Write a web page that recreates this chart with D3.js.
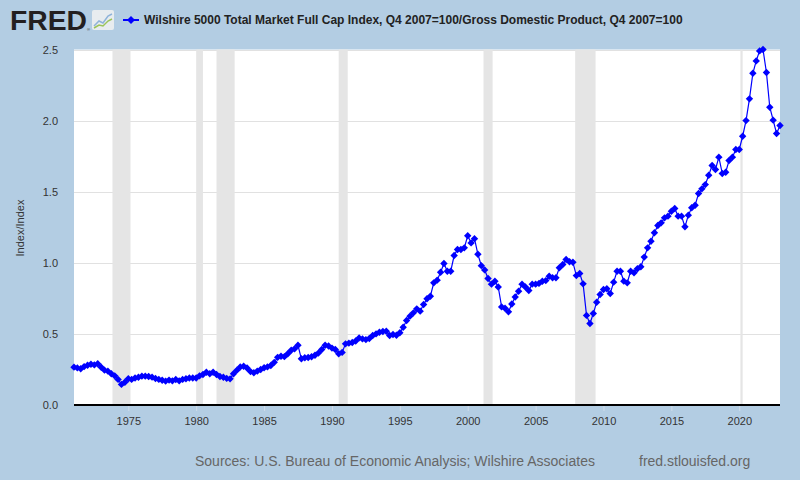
<!DOCTYPE html>
<html><head><meta charset="utf-8">
<script src="https://cdn.jsdelivr.net/npm/d3@7"></script>
<style>
html,body{margin:0;padding:0;background:#b3cde3;}
svg{display:block;font-family:"Liberation Sans",Arial,sans-serif;}
</style></head>
<body><svg id="c" width="800" height="480"></svg>
<script>
// Quarterly series: start 1971 Q1, one value per quarter
const startYear = 1971;
const vals1970s = [0.266,0.261,0.255,0.27, 0.28,0.287,0.282,0.29, 0.265,0.245,0.238,0.22, 0.205,0.18,0.145,0.16,
  0.185,0.18,0.19,0.195, 0.203,0.203,0.2,0.196, 0.186,0.18,0.174,0.168, 0.175,0.17,0.179,0.17, 0.18,0.185,0.19,0.19];
const vals1980s = [0.19,0.205,0.215,0.23, 0.22,0.23,0.214,0.2, 0.195,0.187,0.184,0.22, 0.245,0.268,0.273,0.26,
  0.235,0.227,0.238,0.25, 0.262,0.268,0.278,0.3, 0.335,0.343,0.34,0.36, 0.385,0.395,0.42,0.325,
  0.332,0.334,0.339,0.35, 0.365,0.39,0.42,0.415];
const vals1990s = [0.40,0.39,0.36,0.37, 0.43,0.435,0.44,0.45, 0.472,0.465,0.46,0.468, 0.489,0.50,0.512,0.517,
  0.519,0.489,0.496,0.491, 0.508,0.547,0.594,0.625, 0.648,0.676,0.66,0.707, 0.747,0.765,0.859,0.878,
  0.934,0.995,0.941,0.941, 1.051,1.094,1.094,1.105];
const vals2000s = [1.19,1.14,1.17,1.06, 0.98,0.95,0.89,0.85, 0.87,0.83,0.69,0.68, 0.655,0.71,0.76,0.80,
  0.85,0.83,0.805,0.85, 0.85,0.855,0.87,0.875, 0.905,0.895,0.895,0.965, 0.988,1.023,1.007,1.004,
  0.91,0.925,0.852,0.63, 0.573,0.643,0.723,0.777];
const vals2010s = [0.812,0.817,0.784,0.864, 0.941,0.941,0.871,0.859, 0.941,0.93,0.958,0.972, 1.04,1.105,1.152,1.211,
  1.262,1.281,1.316,1.328, 1.363,1.382,1.328,1.328, 1.253,1.335,1.387,1.405, 1.487,1.52,1.55,1.616,
  1.684,1.656,1.743,1.628, 1.637,1.719,1.743,1.797];
const vals2020s = [1.797,1.89,2.0,2.153, 2.333,2.42,2.49,2.5, 2.338,2.094,2.003,1.909, 1.966];

const recessions = [["1973-11-01","1975-03-01"],["1980-01-01","1980-07-01"],["1981-07-01","1982-11-01"],
  ["1990-07-01","1991-03-01"],["2001-03-01","2001-11-01"],["2007-12-01","2009-06-01"],["2020-02-01","2020-04-01"]];
const yTicks = [0,0.5,1.0,1.5,2.0,2.5];
const xTickYears = [1975,1980,1985,1990,1995,2000,2005,2010,2015,2020];
const domainX = ["1971-01-01","2023-01-01"];
const titleText = "Wilshire 5000 Total Market Full Cap Index, Q4 2007=100/Gross Domestic Product, Q4 2007=100";
const yLabel = "Index/Index";
const sourceText = "Sources: U.S. Bureau of Economic Analysis; Wilshire Associates";
const siteText = "fred.stlouisfed.org";

const values = [].concat(vals1970s, vals1980s, vals1990s, vals2000s, vals2010s, vals2020s);
const data = values.map((v,i)=>({date:new Date(startYear + Math.floor(i/4), (i%4)*3, 1), v}));

const svg = d3.select("#c");
const L=74, R=780, T=49.5, B=405;
const parse = d3.timeParse("%Y-%m-%d");
const x = d3.scaleTime().domain(domainX.map(parse)).range([L,R]);
const y = d3.scaleLinear().domain([0,2.5]).range([B,T]);

svg.append("rect").attr("width",800).attr("height",480).attr("fill","#b3cde3");
svg.append("rect").attr("x",L).attr("y",T).attr("width",R-L).attr("height",B-T).attr("fill","#ffffff");

// grid
svg.append("g").selectAll("line").data(yTicks.filter(d=>d>0)).join("line")
  .attr("x1",L).attr("x2",R).attr("y1",d=>Math.round(y(d))+0.5).attr("y2",d=>Math.round(y(d))+0.5)
  .attr("stroke","#e1e1e1").attr("stroke-width",1);

// recessions
svg.append("g").selectAll("rect").data(recessions).join("rect")
  .attr("x",d=>x(parse(d[0]))).attr("width",d=>x(parse(d[1]))-x(parse(d[0])))
  .attr("y",T).attr("height",B-T).attr("fill","#e5e5e5");

// x axis
const xAxis = d3.axisBottom(x).tickValues(xTickYears.map(yr=>new Date(yr,0,1))).tickFormat(d3.timeFormat("%Y")).tickSize(6).tickPadding(6);
const gx = svg.append("g").attr("transform",`translate(0,${B})`).call(xAxis);
gx.select(".domain").remove();
gx.selectAll(".tick line").attr("stroke","#d0dcea");
gx.selectAll(".tick text").attr("fill","#333").style("font-size","11px").style("font-family","Liberation Sans, Arial, sans-serif");
svg.append("line").attr("x1",L).attr("x2",R).attr("y1",B).attr("y2",B).attr("stroke","#000").attr("stroke-width",2);

// y axis
const yAxis = d3.axisLeft(y).tickValues(yTicks).tickFormat(d3.format(".1f")).tickSize(0).tickPadding(16);
const gy = svg.append("g").attr("transform",`translate(${L},0)`).call(yAxis);
gy.select(".domain").remove();
gy.selectAll(".tick text").attr("fill","#333").style("font-size","11px").style("font-family","Liberation Sans, Arial, sans-serif");

svg.append("text").attr("transform","translate(24,228) rotate(-90)").attr("text-anchor","middle")
  .attr("fill","#333").style("font-size","11px").text(yLabel);

// series
const line = d3.line().x(d=>x(d.date)).y(d=>y(d.v));
svg.append("path").datum(data).attr("d",line).attr("fill","none").attr("stroke","#0000ff").attr("stroke-width",1.2);
const r=3.7;
svg.append("g").selectAll("path").data(data).join("path")
  .attr("d",`M0,${-r}L${r},0L0,${r}L${-r},0Z`)
  .attr("transform",d=>`translate(${x(d.date)},${y(d.v)})`).attr("fill","#0000ff");

// header
svg.append("text").attr("x",10).attr("y",30).attr("fill","#231f20").style("font-size","27px").style("font-weight","bold")
  .attr("textLength",77).attr("lengthAdjust","spacingAndGlyphs").text("FRED");
svg.append("text").attr("x",87).attr("y",31).attr("fill","#231f20").style("font-size","4px").text("®");
const icon = svg.append("g").attr("transform","translate(92,10)");
icon.append("rect").attr("width",22).attr("height",20).attr("rx",2).attr("fill","#e8ecef");
icon.append("path").attr("d","M2,16 L7,11 L11,13 L16,6 L20,4").attr("fill","none").attr("stroke","#8fb3d9").attr("stroke-width",1.5);
icon.append("path").attr("d","M2,18 L7,15 L11,16 L16,11 L20,9").attr("fill","none").attr("stroke","#9bc45a").attr("stroke-width",1.5);

svg.append("line").attr("x1",123).attr("x2",139).attr("y1",20).attr("y2",20).attr("stroke","#0000ff").attr("stroke-width",2);
svg.append("path").attr("d",`M0,-4L4,0L0,4L-4,0Z`).attr("transform","translate(131,20)").attr("fill","#0000ff");
svg.append("text").attr("x",144).attr("y",24).attr("fill","#222").style("font-size","12px").style("font-weight","bold").text(titleText);

svg.append("text").attr("x",195).attr("y",466).attr("fill","#666").style("font-size","14px").text(sourceText);
svg.append("text").attr("x",639).attr("y",466).attr("fill","#666").style("font-size","14px").text(siteText);
</script></body></html>
